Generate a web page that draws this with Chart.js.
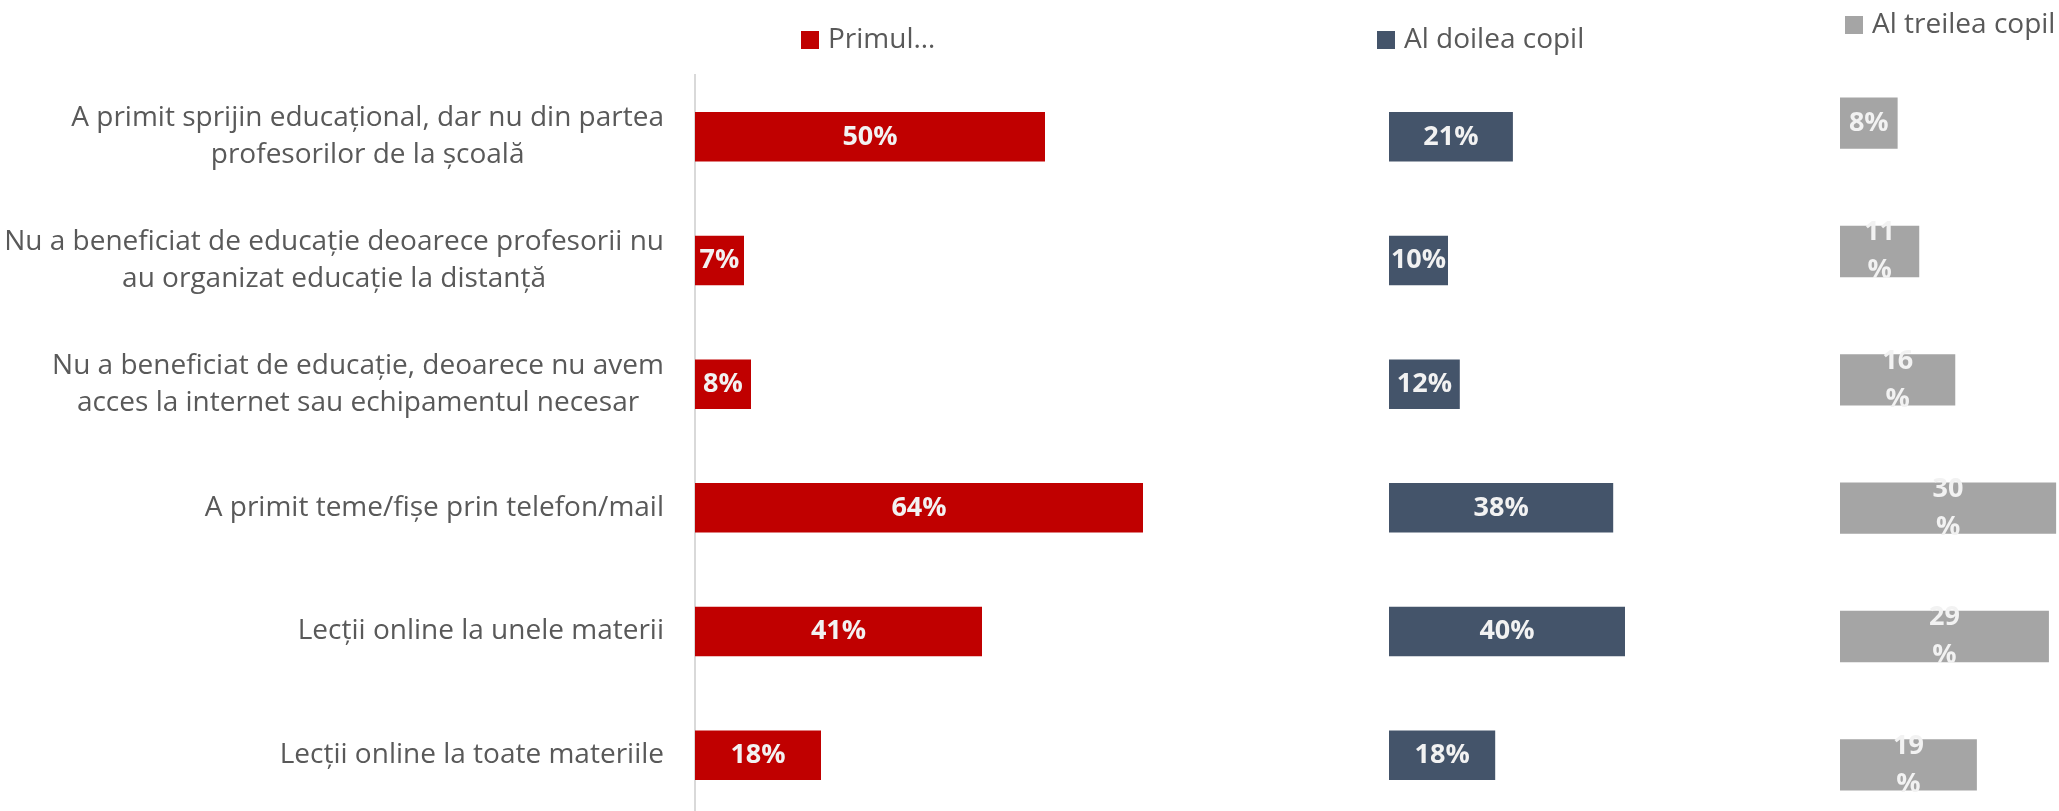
<!DOCTYPE html>
<html>
<head>
<meta charset="utf-8">
<script src="https://cdn.jsdelivr.net/npm/chart.js"></script>
<style>
  html, body { margin: 0; padding: 0; background: #fff; overflow: hidden; }
  #wrap { position: relative; width: 2059px; height: 811px; overflow: hidden; }
  #wrap canvas { position: absolute; top: 0; }
</style>
</head>
<body>
<div id="wrap">
  <canvas id="c1" width="1325" height="840" style="left:0"></canvas>
  <canvas id="c2" width="462" height="840" style="left:1340px"></canvas>
  <canvas id="c3" width="259" height="840" style="left:1800px"></canvas>
</div>
<script>
const categories = [
  ["A primit sprijin educațional, dar nu din partea", "profesorilor de la școală"],
  ["Nu a beneficiat de educație deoarece profesorii nu", "au organizat educație la distanță"],
  ["Nu a beneficiat de educație, deoarece nu avem", "acces la internet sau echipamentul necesar"],
  "A primit teme/fișe prin telefon/mail",
  "Lecții online la unele materii",
  "Lecții online la toate materiile"
];
const primul = [50, 7, 8, 64, 41, 18];
const alDoilea = [21, 10, 12, 38, 40, 18];
const alTreilea = [8, 11, 16, 30, 29, 19];
const seriesNames = ["Primul…", "Al doilea copil", "Al treilea copil"];
const seriesColors = ["#c00000", "#44546a", "#a5a5a5"];

const TEXT = "#595959";
Chart.defaults.font.family = '"Open Sans", sans-serif';
Chart.defaults.color = TEXT;

// value labels inside the bars (panel 3 wraps two-digit labels like Excel did)
const barLabels = {
  id: "barLabels",
  afterDatasetsDraw(chart, args, opts) {
    const ctx = chart.ctx;
    const values = chart.data.datasets[0].data;
    ctx.save();
    ctx.font = 'bold 27px "Open Sans"';
    ctx.fillStyle = "#f2f2f2";
    ctx.textAlign = "center";
    ctx.textBaseline = "middle";
    chart.getDatasetMeta(0).data.forEach((bar, i) => {
      const v = values[i];
      const x = (bar.x + bar.base) / 2;
      if (opts.wrap && v >= 10) {
        ctx.fillText(String(v), x, bar.y - 19);
        ctx.fillText("%", x, bar.y + 19);
      } else {
        ctx.fillText(v + "%", x, bar.y);
      }
    });
    ctx.restore();
  }
};

// one legend entry per panel, above its bars
const panelLegend = {
  id: "panelLegend",
  afterDraw(chart, args, opts) {
    const ctx = chart.ctx;
    const ds = chart.data.datasets[0];
    const x = chart.chartArea.left + opts.dx;
    ctx.save();
    ctx.fillStyle = ds.backgroundColor;
    ctx.fillRect(x, opts.top, 18, 18);
    ctx.font = '28px "Open Sans"';
    ctx.fillStyle = TEXT;
    ctx.textBaseline = "middle";
    ctx.fillText(ds.label, x + 27, opts.top + 9);
    ctx.restore();
  }
};

// category labels: block right aligned, lines centred inside the block
const catLabels = {
  id: "catLabels",
  afterDraw(chart, args, opts) {
    if (!opts.show) return;
    const scale = chart.scales.y;
    const ctx = chart.ctx;
    ctx.save();
    ctx.font = '28px "Open Sans"';
    ctx.fillStyle = TEXT;
    ctx.textAlign = "center";
    ctx.textBaseline = "middle";
    chart.data.labels.forEach((label, i) => {
      const lines = [].concat(label);
      const w = Math.max(...lines.map(l => ctx.measureText(l).width));
      const cx = scale.right - opts.gap - w / 2;
      const y0 = scale.getPixelForTick(i) - (lines.length - 1) * opts.lineHeight / 2;
      lines.forEach((l, k) => ctx.fillText(l, cx, y0 + k * opts.lineHeight));
    });
    ctx.restore();
  }
};

function panel(id, values, k, cfg) {
  return new Chart(document.getElementById(id), {
    type: "bar",
    data: {
      labels: categories,
      datasets: [{
        label: seriesNames[k],
        data: values,
        backgroundColor: seriesColors[k],
        barPercentage: 0.4,
        categoryPercentage: 1
      }]
    },
    options: {
      indexAxis: "y",
      responsive: false,
      animation: false,
      layout: { padding: cfg.padding },
      scales: {
        x: { display: false, min: 0, max: cfg.xMax },
        y: cfg.yAxis
      },
      plugins: {
        legend: { display: false },
        tooltip: { enabled: false },
        panelLegend: cfg.legend,
        barLabels: { wrap: !!cfg.wrap },
        catLabels: { show: !!cfg.labels, gap: 31, lineHeight: 37 }
      }
    },
    plugins: [barLabels, panelLegend, catLabels]
  });
}

panel("c1", primul, 0, {
  padding: { top: 75, bottom: 23, left: 0, right: 0 },
  xMax: 90,
  yAxis: {
    afterFit(s) { s.width = 695; },
    ticks: { display: false },
    grid: { display: false, drawTicks: false },
    border: { display: true, color: "#d9d9d9", width: 2 }
  },
  legend: { dx: 106, top: 31 },
  labels: true
});

panel("c2", alDoilea, 1, {
  padding: { top: 75, bottom: 23, left: 49, right: 0 },
  xMax: 70,
  yAxis: { display: false },
  legend: { dx: -12, top: 31 }
});

panel("c3", alTreilea, 2, {
  padding: { top: 59, bottom: 11, left: 40, right: 0 },
  xMax: 30.4,
  yAxis: { display: false },
  legend: { dx: 5, top: 16 },
  wrap: true
});
</script>
</body>
</html>
